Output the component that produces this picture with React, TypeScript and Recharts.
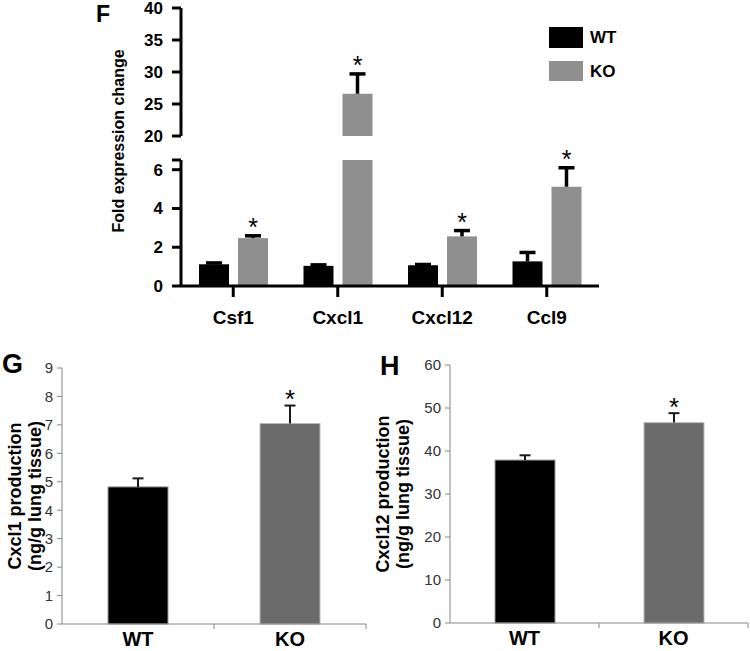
import React from 'react';
import { BarChart, Bar, XAxis, YAxis } from 'recharts';

// panel F: fold change, broken y axis
const fGenes = ['Csf1', 'Cxcl1', 'Cxcl12', 'Ccl9'];
const fWt = [1.12, 1.04, 1.07, 1.27];
const fWtErr = [0.07, 0.05, 0.04, 0.46];
const fKo = [2.47, 26.6, 2.56, 5.12];
const fKoErr = [0.12, 3.1, 0.3, 0.98];
const fWtStar = [false, false, false, false];
const fKoStar = [true, true, true, true];
const fLowTicks = [0, 2, 4, 6, 6.5];
const fHighTicks = [20, 25, 30, 35, 40];
const fBreakLow = 6.5;
const fBreakHigh = 20;

// panels G and H: protein levels
const groups = ['WT', 'KO'];
const gVals = [4.82, 7.05];
const gErr = [0.3, 0.63];
const gStar = [false, true];
const gTicks = [0, 1, 2, 3, 4, 5, 6, 7, 8, 9];
const hVals = [37.9, 46.6];
const hErr = [1.1, 2.2];
const hStar = [false, true];
const hTicks = [0, 10, 20, 30, 40, 50, 60];

const FONT = '"Liberation Sans", Arial, sans-serif';

const fLowData = fGenes.map((gene, i) => ({
  gene,
  wt: Math.min(fWt[i], fBreakLow),
  ko: Math.min(fKo[i], fBreakLow),
}));
const fHighData = fGenes.map((gene, i) => ({
  gene,
  wt: fWt[i] >= fBreakHigh ? fWt[i] : null,
  ko: fKo[i] >= fBreakHigh ? fKo[i] : null,
}));
const gData = groups.map((group, i) => ({ group, v: gVals[i] }));
const hData = groups.map((group, i) => ({ group, v: hVals[i] }));

type Style = {
  fill: string;
  rectStroke?: string;
  err: string;
  errWidth: number;
  cap: number;
  star: number;
  starGap: number;
};

// bar + upward error bar + asterisk, all measured from the bar rect the library gives
function barShape(key: string, catKey: string, cats: string[], vals: number[], errs: number[],
  stars: boolean[], base: number, limit: number, st: Style | ((i: number) => Style)) {
  return (props: any) => {
    const { x, y, width, height, payload } = props;
    const v = payload ? payload[key] : null;
    if (v == null || height == null) return <g />;
    const i = cats.indexOf(payload[catKey]);
    const s = typeof st === 'function' ? st(i) : st;
    const raw = vals[i];
    const parts: any[] = [
      <rect key="r" x={x} y={y} width={width} height={height} fill={s.fill}
        stroke={s.rectStroke || 'none'} strokeWidth={1} />,
    ];
    if (raw <= limit && raw - base > 0) {
      const ppu = height / (raw - base);
      const cx = x + width / 2;
      const top = y - errs[i] * ppu;
      parts.push(
        <line key="s" x1={cx} x2={cx} y1={y} y2={top} stroke={s.err} strokeWidth={s.errWidth} />,
        <line key="c" x1={cx - s.cap / 2} x2={cx + s.cap / 2} y1={top} y2={top} stroke={s.err} strokeWidth={s.errWidth} />
      );
      if (stars[i]) {
        parts.push(
          <text key="t" x={cx} y={top - s.starGap + 0.52 * s.star} textAnchor="middle"
            fontSize={s.star} fontFamily={FONT} fill="#000">*</text>
        );
      }
    }
    return <g>{parts}</g>;
  };
}

const fWtStyle: Style = { fill: '#000', err: '#000', errWidth: 3.5, cap: 16, star: 25, starGap: 13 };
const fKoStyle: Style = { fill: '#8f8f8f', err: '#000', errWidth: 3.5, cap: 16, star: 25, starGap: 13 };
const ghWtStyle: Style = { fill: '#000', rectStroke: '#9a9a9a', err: '#1a1a1a', errWidth: 2, cap: 11, star: 26, starGap: 11 };
const ghKoStyle: Style = { fill: '#6b6b6b', rectStroke: '#b8b8b8', err: '#1a1a1a', errWidth: 2, cap: 11, star: 26, starGap: 11 };

const fAxis = { stroke: '#000', strokeWidth: 3 };
const fTick = { fontSize: 17, fontWeight: 'bold', fill: '#000', fontFamily: FONT };

// category tick: label at center, tick mark at category boundary (Excel style)
function BoundaryTick(props: any) {
  const { x, y, payload, index, visibleTicksCount } = props;
  const half = payload && payload.offset ? payload.offset : 75;
  return (
    <g>
      {index > 0 && <line x1={x - half} x2={x - half} y1={y - 8} y2={y - 3} stroke="#868686" />}
      {index === visibleTicksCount - 1 && <line x1={x + half} x2={x + half} y1={y - 8} y2={y - 3} stroke="#868686" />}
      <text x={x} y={y + 14} textAnchor="middle" fontSize={20} fontWeight="bold" fontFamily={FONT} fill="#000">
        {payload.value}
      </text>
    </g>
  );
}

const ghAxis = { stroke: '#868686', strokeWidth: 1 };
const ghTick = { fontSize: 15, fill: '#333', fontFamily: FONT };

function ProteinPanel({ data, ticks, max, vals, errs, stars, width, top, plotBottom }: any) {
  const xh = 27;
  return (
    <BarChart width={width} height={plotBottom + xh} data={data} margin={{ top, right: 4, bottom: 0, left: 0 }} barSize={60}>
      <XAxis dataKey="group" axisLine={ghAxis} tickLine={false} height={xh} tick={<BoundaryTick />} interval={0} />
      <YAxis domain={[0, max]} ticks={ticks} interval={0} width={62} axisLine={ghAxis}
        tickLine={{ stroke: '#868686' }} tickSize={5} tickMargin={4} tick={ghTick} />
      <Bar dataKey="v" isAnimationActive={false}
        shape={barShape('v', 'group', groups, vals, errs, stars, 0, Infinity, (i: number) => (i === 0 ? ghWtStyle : ghKoStyle))} />
    </BarChart>
  );
}

export default function App() {
  return (
    <div style={{ position: 'absolute', left: 0, top: 0, width: 750, height: 651, background: '#fff', fontFamily: FONT }}>
      {/* F upper segment */}
      <div style={{ position: 'absolute', left: 0, top: 0 }}>
        <BarChart width={750} height={148} data={fHighData} margin={{ top: 8, right: 151, bottom: 12, left: 0 }} barSize={30} barGap={9}>
          <XAxis dataKey="gene" hide />
          <YAxis type="number" domain={[fBreakHigh, 40]} ticks={fHighTicks} interval={0} width={181}
            axisLine={fAxis} tickLine={fAxis} tickSize={9} tickMargin={9} tick={fTick} />
          <Bar dataKey="wt" isAnimationActive={false} shape={barShape('wt', 'gene', fGenes, fWt, fWtErr, fWtStar, fBreakHigh, Infinity, fWtStyle)} />
          <Bar dataKey="ko" isAnimationActive={false} shape={barShape('ko', 'gene', fGenes, fKo, fKoErr, fKoStar, fBreakHigh, Infinity, fKoStyle)} />
        </BarChart>
      </div>
      {/* F lower segment */}
      <div style={{ position: 'absolute', left: 0, top: 140 }}>
        <BarChart width={750} height={188} data={fLowData} margin={{ top: 20, right: 151, bottom: 0, left: 0 }} barSize={30} barGap={9}>
          <XAxis dataKey="gene" height={42} axisLine={fAxis} tickLine={fAxis} tickSize={11} tickMargin={14}
            tick={{ ...fTick, fontSize: 19 }} interval={0} />
          <YAxis type="number" domain={[0, fBreakLow]} ticks={fLowTicks} interval={0} width={181}
            axisLine={fAxis} tickLine={fAxis} tickSize={9} tickMargin={9} tick={fTick}
            tickFormatter={(v: number) => (v === fBreakLow ? '' : String(v))} />
          <Bar dataKey="wt" isAnimationActive={false} shape={barShape('wt', 'gene', fGenes, fWt, fWtErr, fWtStar, 0, fBreakLow, fWtStyle)} />
          <Bar dataKey="ko" isAnimationActive={false} shape={barShape('ko', 'gene', fGenes, fKo, fKoErr, fKoStar, 0, fBreakLow, fKoStyle)} />
        </BarChart>
      </div>
      {/* G */}
      <div style={{ position: 'absolute', left: 0, top: 340 }}>
        <ProteinPanel data={gData} ticks={gTicks} max={9} vals={gVals} errs={gErr} stars={gStar}
          width={370} top={28} plotBottom={284} />
      </div>
      {/* H */}
      <div style={{ position: 'absolute', left: 388, top: 340 }}>
        <ProteinPanel data={hData} ticks={hTicks} max={60} vals={hVals} errs={hErr} stars={hStar}
          width={364} top={25} plotBottom={283} />
      </div>
      {/* titles, legend */}
      <svg width={750} height={651} style={{ position: 'absolute', left: 0, top: 0, pointerEvents: 'none' }} fontFamily={FONT}>
        <text x={96} y={22} fontSize={23} fontWeight="bold">F</text>
        <text transform="translate(124,141) rotate(-90)" textAnchor="middle" fontSize={16} fontWeight="bold">
          Fold expression change
        </text>
        <rect x={549} y={27} width={34} height={21} fill="#000" />
        <text x={590} y={43} fontSize={17} fontWeight="bold">{groups[0]}</text>
        <rect x={549} y={61} width={34} height={20} fill="#8f8f8f" />
        <text x={590} y={77} fontSize={17} fontWeight="bold">{groups[1]}</text>

        <text x={2} y={373} fontSize={27} fontWeight="bold">G</text>
        <text transform="translate(21,496) rotate(-90)" textAnchor="middle" fontSize={18} fontWeight="bold">
          Cxcl1 production
        </text>
        <text transform="translate(41,496) rotate(-90)" textAnchor="middle" fontSize={18} fontWeight="bold">
          (ng/g lung tissue)
        </text>

        <text x={380} y={375} fontSize={27} fontWeight="bold">H</text>
        <text transform="translate(389,494) rotate(-90)" textAnchor="middle" fontSize={18} fontWeight="bold">
          Cxcl12 production
        </text>
        <text transform="translate(409,494) rotate(-90)" textAnchor="middle" fontSize={18} fontWeight="bold">
          (ng/g lung tissue)
        </text>
      </svg>
    </div>
  );
}
